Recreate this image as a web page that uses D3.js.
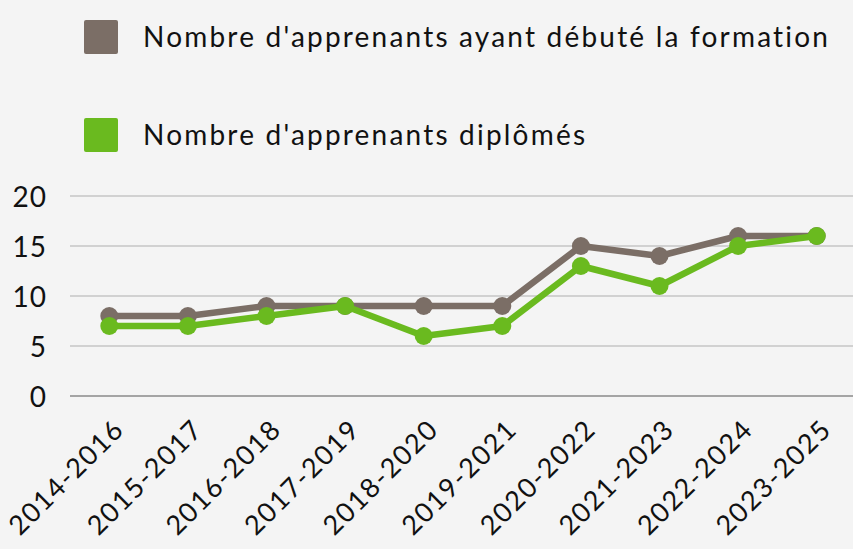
<!DOCTYPE html>
<html><head><meta charset="utf-8">
<script src="https://cdn.jsdelivr.net/npm/d3@7"></script>
<style>
html,body{margin:0;padding:0;background:#f4f4f4;}
svg{display:block;}
text{font-family:"Lato","Noto Sans",sans-serif;fill:#111;}
</style></head><body>
<svg id="c" width="853" height="549"></svg>
<script>
const categories = ["2014-2016","2015-2017","2016-2018","2017-2019","2018-2020","2019-2021","2020-2022","2021-2023","2022-2024","2023-2025"];
const started = [8,8,9,9,9,9,15,14,16,16];
const graduated = [7,7,8,9,6,7,13,11,15,16];
const seriesNames = ["Nombre d'apprenants ayant débuté la formation","Nombre d'apprenants diplômés"];
const seriesColors = ["#7b6e66","#6aba1f"];
const yTicks = [0,5,10,15,20];

const svg = d3.select("#c");
svg.append("rect").attr("width",853).attr("height",549).attr("fill","#f4f4f4");

const x = d3.scalePoint().domain(categories).range([70,856]).padding(0.5);
const y = d3.scaleLinear().domain([0,20]).range([396,196]);

// gridlines
svg.append("g").selectAll("line").data(yTicks).join("line")
  .attr("x1",70).attr("x2",853)
  .attr("y1",d=>y(d)).attr("y2",d=>y(d))
  .attr("stroke",d=>d===0?"#8a8a8a":"#c6c6c6").attr("stroke-width",1.5);

// y axis labels
const yAxis = d3.axisLeft(y).tickValues(yTicks).tickSize(0).tickPadding(0);
const gy = svg.append("g").attr("transform","translate(47,0)").call(yAxis);
gy.select(".domain").remove();
gy.selectAll("text").style("font-size","28px").style("letter-spacing","1px").attr("fill","#111").attr("dy","0.36em");

// x axis labels
const xAxis = d3.axisBottom(x).tickSize(0).tickPadding(0);
const gx = svg.append("g").attr("transform","translate(0,431)").call(xAxis);
gx.select(".domain").remove();
gx.selectAll("text").style("font-size","27px").style("letter-spacing","1.6px").attr("fill","#111")
  .attr("text-anchor","end").attr("dy","0").attr("y",0)
  .attr("transform","translate(16,0) rotate(-45)");

const data = [started, graduated];
const line = d3.line().x((d,i)=>x(categories[i])).y(d=>y(d));
data.forEach((vals,si)=>{
  const g = svg.append("g");
  g.append("path").datum(vals).attr("d",line).attr("fill","none")
    .attr("stroke",seriesColors[si]).attr("stroke-width",6.5).attr("stroke-linejoin","round");
  g.selectAll("circle").data(vals).join("circle")
    .attr("cx",(d,i)=>x(categories[i])).attr("cy",d=>y(d)).attr("r",9)
    .attr("fill",seriesColors[si]);
});

// legend
const lg = svg.append("g");
seriesNames.forEach((n,i)=>{
  const yy = 20 + i*98;
  lg.append("rect").attr("x",84).attr("y",yy).attr("width",34).attr("height",34).attr("rx",2)
    .attr("fill",seriesColors[i]);
  lg.append("text").attr("x",143).attr("y",yy+27)
    .style("font-size","28px").style("letter-spacing","2.2px").text(n);
});
</script></body></html>
